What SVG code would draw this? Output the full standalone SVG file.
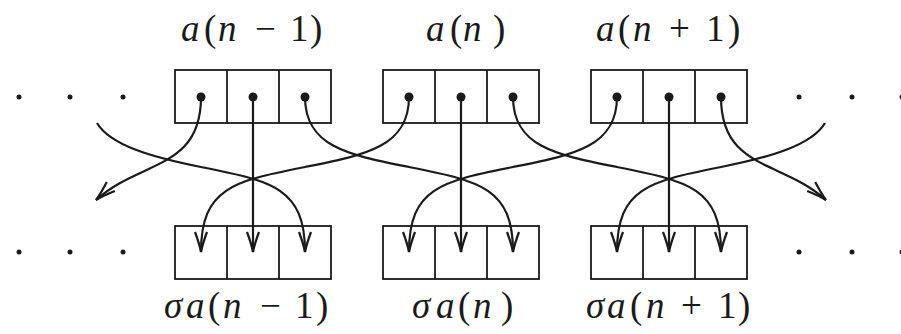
<svg xmlns="http://www.w3.org/2000/svg" width="901" height="334" viewBox="0 0 901 334">
  <defs>
    <style>
      .box { fill: none; stroke: #1a1a1a; stroke-width: 1.8; }
      .div { stroke: #1a1a1a; stroke-width: 1.8; }
      .dot { fill: #1a1a1a; }
      .ell { fill: #1a1a1a; }
      .wire { fill: none; stroke: #1a1a1a; stroke-width: 2.2; marker-end: url(#arr); }
      .lbl { font-family: 'Liberation Serif', 'DejaVu Serif', serif; font-size: 37px; fill: #1a1a1a; }
      .it { font-style: italic; }
    </style>
    <marker id="arr" markerUnits="userSpaceOnUse" markerWidth="30" markerHeight="20" viewBox="-22 -10 26 20" refX="0" refY="0" orient="auto" overflow="visible">
      <path d="M-20,-6 Q-8,-1.5 0,0 Q-8,1.5 -20,6" fill="none" stroke="#1a1a1a" stroke-width="2.2"/>
    </marker>
  </defs>
  <rect width="901" height="334" fill="#ffffff"/>

  <!-- ellipsis dots -->
  <g id="ellipsis-left">
    <circle class="ell" cx="19" cy="97" r="2.5"/>
    <circle class="ell" cx="70" cy="97" r="2.5"/>
    <circle class="ell" cx="123" cy="97" r="2.5"/>
    <circle class="ell" cx="19" cy="252" r="2.5"/>
    <circle class="ell" cx="70" cy="252" r="2.5"/>
    <circle class="ell" cx="123" cy="252" r="2.5"/>
  </g>
  <g id="ellipsis-right">
    <circle class="ell" cx="799" cy="97" r="2.5"/>
    <circle class="ell" cx="852" cy="97" r="2.5"/>
    <circle class="ell" cx="902" cy="97" r="2.5"/>
    <circle class="ell" cx="799" cy="252" r="2.5"/>
    <circle class="ell" cx="852" cy="252" r="2.5"/>
    <circle class="ell" cx="902" cy="252" r="2.5"/>
  </g>

  <!-- top nodes -->
  <g id="a-n-minus-1">
    <rect class="box" x="175" y="70" width="156" height="53"/>
    <line class="div" x1="227" y1="70" x2="227" y2="123"/>
    <line class="div" x1="279" y1="70" x2="279" y2="123"/>
    <circle class="dot" cx="201" cy="97" r="4.5"/>
    <circle class="dot" cx="253" cy="97" r="4.5"/>
    <circle class="dot" cx="305" cy="97" r="4.5"/>
    <text class="lbl" font-family="Liberation Serif, DejaVu Serif, serif" y="41"><tspan class="it" x="181">a</tspan><tspan x="204">(</tspan><tspan class="it" x="218">n</tspan><tspan x="255">−</tspan><tspan x="290">1</tspan><tspan x="310">)</tspan></text>
  </g>
  <g id="a-n">
    <rect class="box" x="383" y="70" width="156" height="53"/>
    <line class="div" x1="435" y1="70" x2="435" y2="123"/>
    <line class="div" x1="487" y1="70" x2="487" y2="123"/>
    <circle class="dot" cx="409" cy="97" r="4.5"/>
    <circle class="dot" cx="461" cy="97" r="4.5"/>
    <circle class="dot" cx="513" cy="97" r="4.5"/>
    <text class="lbl" font-family="Liberation Serif, DejaVu Serif, serif" y="41"><tspan class="it" x="426">a</tspan><tspan x="450">(</tspan><tspan class="it" x="463">n</tspan><tspan x="493">)</tspan></text>
  </g>
  <g id="a-n-plus-1">
    <rect class="box" x="591" y="70" width="156" height="53"/>
    <line class="div" x1="643" y1="70" x2="643" y2="123"/>
    <line class="div" x1="695" y1="70" x2="695" y2="123"/>
    <circle class="dot" cx="617" cy="97" r="4.5"/>
    <circle class="dot" cx="669" cy="97" r="4.5"/>
    <circle class="dot" cx="721" cy="97" r="4.5"/>
    <text class="lbl" font-family="Liberation Serif, DejaVu Serif, serif" y="41"><tspan class="it" x="596">a</tspan><tspan x="618">(</tspan><tspan class="it" x="633">n</tspan><tspan x="669">+</tspan><tspan x="706">1</tspan><tspan x="728">)</tspan></text>
  </g>

  <!-- bottom nodes -->
  <g id="sigma-a-n-minus-1">
    <rect class="box" x="175" y="226" width="156" height="53"/>
    <line class="div" x1="227" y1="226" x2="227" y2="279"/>
    <line class="div" x1="279" y1="226" x2="279" y2="279"/>
    <text class="lbl" font-family="Liberation Serif, DejaVu Serif, serif" y="318"><tspan class="it" x="164">σ</tspan><tspan class="it" x="186">a</tspan><tspan x="208">(</tspan><tspan class="it" x="223">n</tspan><tspan x="260">−</tspan><tspan x="295">1</tspan><tspan x="316">)</tspan></text>
  </g>
  <g id="sigma-a-n">
    <rect class="box" x="383" y="226" width="156" height="53"/>
    <line class="div" x1="435" y1="226" x2="435" y2="279"/>
    <line class="div" x1="487" y1="226" x2="487" y2="279"/>
    <text class="lbl" font-family="Liberation Serif, DejaVu Serif, serif" y="318"><tspan class="it" x="412">σ</tspan><tspan class="it" x="436">a</tspan><tspan x="458">(</tspan><tspan class="it" x="473">n</tspan><tspan x="501">)</tspan></text>
  </g>
  <g id="sigma-a-n-plus-1">
    <rect class="box" x="591" y="226" width="156" height="53"/>
    <line class="div" x1="643" y1="226" x2="643" y2="279"/>
    <line class="div" x1="695" y1="226" x2="695" y2="279"/>
    <text class="lbl" font-family="Liberation Serif, DejaVu Serif, serif" y="318"><tspan class="it" x="586">σ</tspan><tspan class="it" x="607">a</tspan><tspan x="630">(</tspan><tspan class="it" x="646">n</tspan><tspan x="681">+</tspan><tspan x="718">1</tspan><tspan x="738">)</tspan></text>
  </g>

  <!-- connectors -->
  <g id="connectors">
    <path class="wire" d="M253,97 V252"/>
    <path class="wire" d="M461,97 V252"/>
    <path class="wire" d="M669,97 V252"/>
    <path class="wire" d="M305,97 C305,147 349,155 409,167 C479,181 513,187 513,252"/>
    <path class="wire" d="M513,97 C513,147 557,155 617,167 C687,181 721,187 721,252"/>
    <path class="wire" d="M409,97 C409,147 365,155 305,167 C235,181 201,187 201,252"/>
    <path class="wire" d="M617,97 C617,147 573,155 513,167 C443,181 409,187 409,252"/>
    <path class="wire" d="M201,97 C201,170 140,160 96,200"/>
    <path class="wire" d="M721,97 C721,170 782,160 826,200"/>
    <path class="wire" d="M97,123 C110,145 151,157 201,167 C271,181 305,187 305,252"/>
    <path class="wire" d="M825,123 C812,145 771,157 721,167 C651,181 617,187 617,252"/>
  </g>
</svg>
